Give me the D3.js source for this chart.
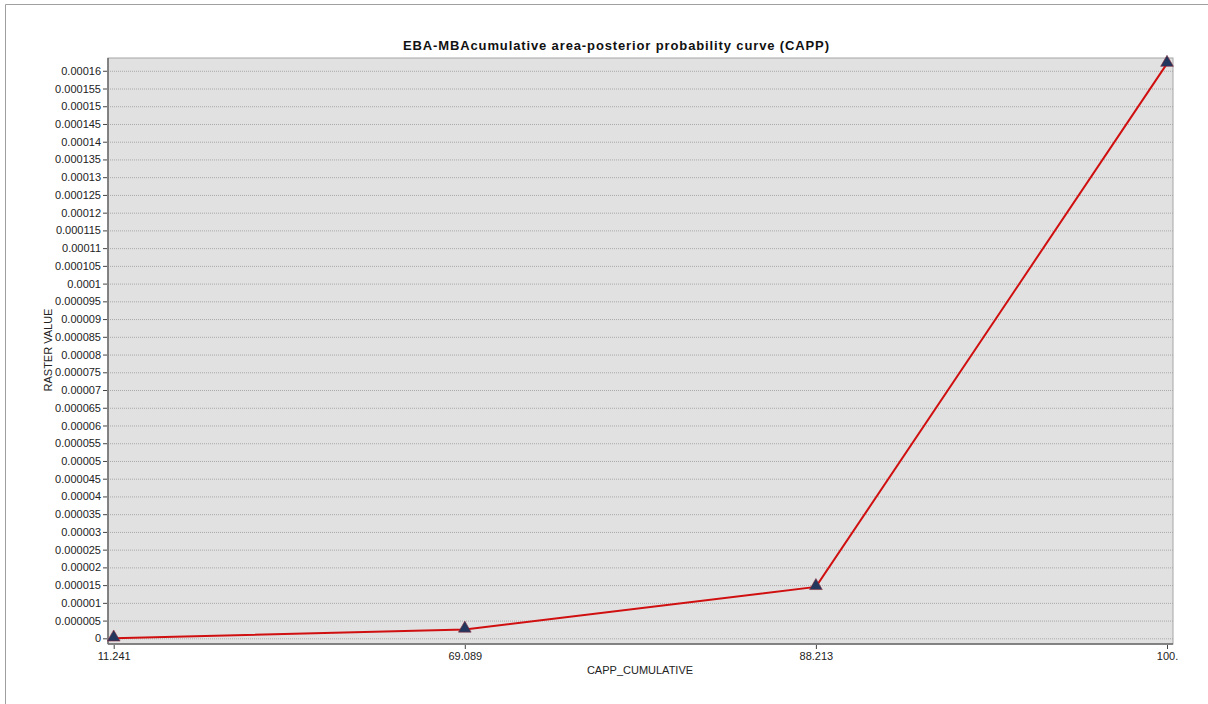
<!DOCTYPE html>
<html>
<head>
  <meta charset="utf-8">
  <title>CAPP curve</title>
  <script src="https://d3js.org/d3.v7.min.js"></script>
  <style>
    body { margin: 0; background: #fff; font-family: "Liberation Sans", Arial, sans-serif; }
    .axis text { font-size: 11px; fill: #222; font-family: "Liberation Sans", Arial, sans-serif; }
    .axis path { display: none; }
    .axis line { stroke: #444; }
    .grid line { stroke: #a8a8a8; stroke-dasharray: 1,1; }
    .grid path { display: none; }
  </style>
</head>
<body>
  <svg width="1208" height="704"></svg>
  <script>
    const categories = ["11.241", "69.089", "88.213", "100."];
    const rasterValues = [0, 0.0000025, 0.0000145, 0.000162];
    const yTicks = d3.range(0, 33).map(i => i * 0.000005);
    const yTickLabels = ["0", "0.000005", "0.00001", "0.000015", "0.00002", "0.000025", "0.00003",
      "0.000035", "0.00004", "0.000045", "0.00005", "0.000055", "0.00006", "0.000065", "0.00007",
      "0.000075", "0.00008", "0.000085", "0.00009", "0.000095", "0.0001", "0.000105", "0.00011",
      "0.000115", "0.00012", "0.000125", "0.00013", "0.000135", "0.00014", "0.000145", "0.00015",
      "0.000155", "0.00016"];

    const svg = d3.select("svg");
    const plot = {left: 108, top: 58, right: 1173, bottom: 644};

    // outer frame
    svg.append("path")
      .attr("d", "M5.5,704 V4.5 H1208")
      .attr("fill", "none")
      .attr("stroke", "#a0a0a0");

    const x = d3.scalePoint()
      .domain(categories)
      .range([113.7, 1167]);

    const y = d3.scaleLinear()
      .domain([-0.0000016, 0.0001636])
      .range([plot.bottom, plot.top]);

    svg.append("rect")
      .attr("x", plot.left).attr("y", plot.top)
      .attr("width", plot.right - plot.left).attr("height", plot.bottom - plot.top)
      .attr("fill", "#e1e1e1")
      .attr("stroke", "#a6a6a6");

    svg.append("g")
      .attr("class", "grid")
      .attr("transform", `translate(${plot.left},0)`)
      .call(d3.axisLeft(y).tickValues(yTicks).tickSize(-(plot.right - plot.left)).tickFormat(""));

    // axis lines (darker, left and bottom)
    svg.append("line")
      .attr("x1", plot.left).attr("x2", plot.left)
      .attr("y1", plot.top).attr("y2", plot.bottom)
      .attr("stroke", "#6a6a6a").attr("stroke-width", 1.5);
    svg.append("line")
      .attr("x1", plot.left).attr("x2", plot.right)
      .attr("y1", plot.bottom).attr("y2", plot.bottom)
      .attr("stroke", "#6a6a6a").attr("stroke-width", 1.5);

    svg.append("g")
      .attr("class", "axis y")
      .attr("transform", `translate(${plot.left - 1},0)`)
      .call(d3.axisLeft(y).tickValues(yTicks).tickSize(4).tickPadding(2)
        .tickFormat((d, i) => yTickLabels[i]));

    svg.append("g")
      .attr("class", "axis x")
      .attr("transform", `translate(0,${plot.bottom + 1})`)
      .call(d3.axisBottom(x).tickSize(4).tickPadding(3));

    const pts = categories.map((c, i) => ({c: c, v: rasterValues[i]}));

    svg.append("path")
      .datum(pts)
      .attr("fill", "none")
      .attr("stroke", "#d01010")
      .attr("stroke-width", 2)
      .attr("d", d3.line().x(d => x(d.c)).y(d => y(d.v)));

    svg.selectAll(".marker")
      .data(pts)
      .join("path")
      .attr("class", "marker")
      .attr("transform", d => `translate(${x(d.c)},${y(d.v) - 1})`)
      .attr("d", d3.symbol(d3.symbolTriangle, 70))
      .attr("fill", "#22365e")
      .attr("stroke", "#8a2a3a")
      .attr("stroke-width", 0.6);

    svg.append("text")
      .attr("x", 616).attr("y", 50)
      .attr("text-anchor", "middle")
      .attr("textLength", 426)
      .style("font-size", "13px").style("font-weight", "bold").style("fill", "#111")
      .text("EBA-MBAcumulative area-posterior probability curve (CAPP)");

    svg.append("text")
      .attr("x", 640).attr("y", 674)
      .attr("text-anchor", "middle")
      .style("font-size", "11px").style("fill", "#222")
      .text("CAPP_CUMULATIVE");

    svg.append("text")
      .attr("transform", "translate(52,350) rotate(-90)")
      .attr("text-anchor", "middle")
      .style("font-size", "11px").style("fill", "#222")
      .text("RASTER VALUE");
  </script>
</body>
</html>
